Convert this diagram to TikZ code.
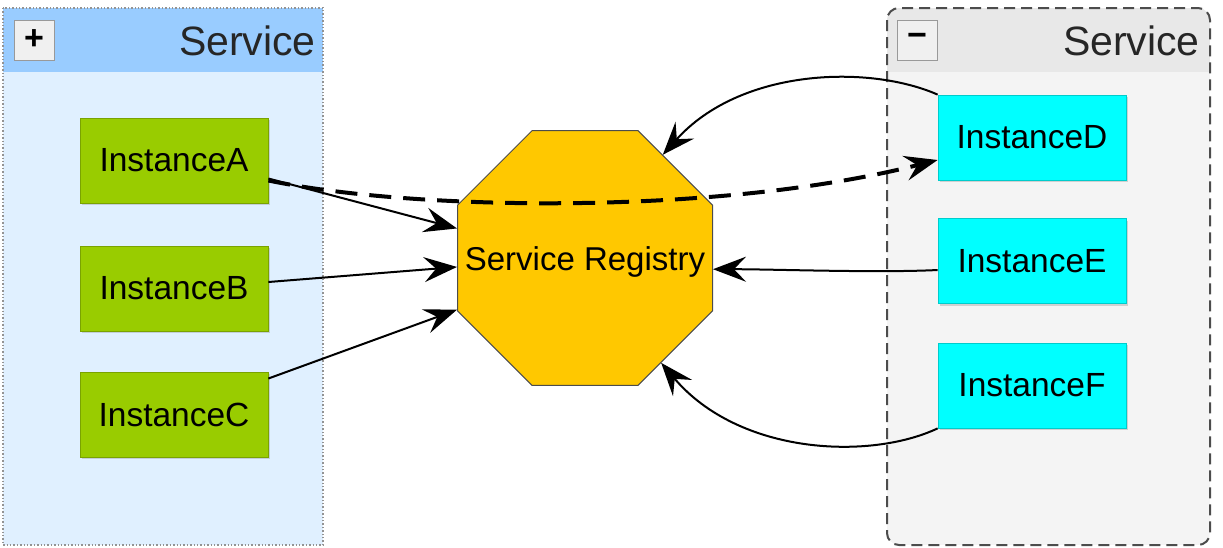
\documentclass[tikz,border=0pt]{standalone}
\usepackage{fontspec}
\setmainfont{Liberation Sans}
\usetikzlibrary{shapes.geometric,arrows.meta,shadows}

\definecolor{svchead}{RGB}{153,204,255}
\definecolor{svcbody}{RGB}{224,240,255}
\definecolor{grayhead}{RGB}{232,232,232}
\definecolor{graybody}{RGB}{244,244,244}
\definecolor{leafgreen}{RGB}{153,204,0}
\definecolor{instcyanfill}{RGB}{0,255,255}
\definecolor{regyellow}{RGB}{255,200,0}

\tikzset{
    inst/.style={minimum width=188pt, minimum height=85pt, inner sep=0pt,
        line width=0.8pt, font=\fontsize{33.5}{40}\selectfont,
        drop shadow={shadow xshift=1.5pt, shadow yshift=-2pt, opacity=0.3}},
    instgreen/.style={inst, fill=leafgreen, draw=leafgreen!80!black},
    instcyan/.style={inst, fill=instcyanfill, draw=instcyanfill!80!black},
    togglebtn/.style={draw=gray!80, fill=gray!12, line width=1pt, minimum size=40pt,
        inner sep=0pt, font=\fontsize{34}{34}\selectfont\bfseries},
    svctitle/.style={anchor=east, inner sep=0pt, text=black!85,
        font=\fontsize{41}{48}\selectfont},
    flow/.style={line width=2pt, -{Stealth[length=33pt, width=25pt, inset=12pt]}}
}

\begin{document}
\begin{tikzpicture}[x=1pt,y=-1pt]
                \useasboundingbox (0,0) rectangle (1223,547);
                \begin{scope}
                    \fill[svcbody] (3,8) rectangle (323,545);
                    \fill[svchead] (3,8) rectangle (323,72);
                    \draw[gray!85, dotted, line width=1.4pt] (3,8) rectangle (323,545);
                    \node[togglebtn] (plusbtn) at (34,40) {+};
                    \node[svctitle] (lefttitle) at (316,41) {Service};
                    \node[instgreen] (instA) at (174,160.5) {InstanceA};
                    \node[instgreen] (instB) at (174,288.5) {InstanceB};
                    \node[instgreen] (instC) at (174,414.5) {InstanceC};
                \end{scope}
                \begin{scope}
                    \begin{scope}
                        \clip[rounded corners=12pt] (887,8) rectangle (1210,545);
                        \fill[graybody] (887,8) rectangle (1210,545);
                        \fill[grayhead] (887,8) rectangle (1210,72);
                    \end{scope}
                    \draw[black!70, line width=2pt, dash pattern=on 11pt off 6pt,
                        rounded corners=12pt] (887,8) rectangle (1210,545);
                    \node[togglebtn] (minusbtn) at (917,40) {\symbol{"2212}};
                    \node[svctitle] (righttitle) at (1200,41) {Service};
                    \node[instcyan] (instD) at (1032,137.5) {InstanceD};
                    \node[instcyan] (instE) at (1032,261) {InstanceE};
                    \node[instcyan] (instF) at (1032,385.5) {InstanceF};
                \end{scope}
                \node[regular polygon, regular polygon sides=8, minimum size=276pt,
                    inner sep=0pt, fill=regyellow, draw=black!70, line width=1pt] (reg) at (585,258) {};
                \node[inner sep=0pt, font=\fontsize{33}{40}\selectfont] (regtext) at (585,262) {Service Registry};
                \draw[flow] ([yshift=-18pt]instA.east) -- (reg.167);
                \draw[flow] ([yshift=6.5pt]instB.east) -- (reg.184);
                \draw[flow] ([yshift=36pt]instC.east) -- (reg.202);
                \draw[flow] (instD.north west) .. controls +(-68,-30) and +(78,-87) .. (reg.53);
                \draw[flow] ([yshift=-9pt]instE.west) .. controls +(-60,3) and +(60,0) .. (reg.-5);
                \draw[flow] (instF.south west) .. controls +(-68,32) and +(78,92) .. (reg.-54);
                \draw[flow, line width=4pt, dash pattern=on 22pt off 12pt]
                    ([yshift=-20pt]instA.east) .. controls +(150,31) and +(-217,55) ..
                    ([yshift=-22.5pt]instD.west);
            \end{tikzpicture}
\end{document}
